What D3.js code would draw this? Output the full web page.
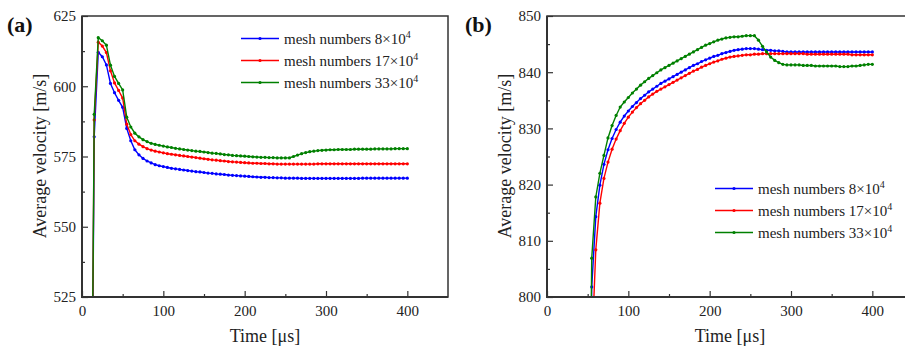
<!DOCTYPE html>
<html>
<head>
<meta charset="utf-8">
<script src="https://cdn.jsdelivr.net/npm/d3@7"></script>
</head>
<body style="margin:0">
<script>
// ---- data ----
var seriesNames = ["mesh numbers 8×10", "mesh numbers 17×10", "mesh numbers 33×10"]
var seriesColors = ["#0000ff", "#ff0000", "#008000"]

// panel (a)
var timeA = [0, 15, 20, 25, 30, 35, 40, 45, 50, 55, 60, 65, 70, 75, 80, 85, 90, 95, 100,
  105, 110, 115, 120, 125, 130, 135, 140, 145, 150, 155, 160, 165, 170, 175, 180, 185, 190, 195, 200,
  205, 210, 215, 220, 225, 230, 235, 240, 245, 250, 255, 260, 265, 270, 275, 280, 285, 290, 295, 300,
  305, 310, 315, 320, 325, 330, 335, 340, 345, 350, 355, 360, 365, 370, 375, 380, 385, 390, 395, 400]
var mesh8A = [0, 582, 612.1, 610.5, 607.6, 601, 597.7, 595, 592.5, 585, 580.6, 577.4, 575.6, 574.3, 573.4, 572.7, 572.1, 571.7, 571.4,
  571.1, 570.8, 570.6, 570.4, 570.2, 570.0, 569.8, 569.6, 569.5, 569.3, 569.1, 569.0, 568.8, 568.7, 568.6, 568.4, 568.3, 568.2, 568.1, 568.0,
  567.9, 567.8, 567.7, 567.6, 567.6, 567.5, 567.5, 567.4, 567.4, 567.3, 567.3, 567.3, 567.3, 567.2, 567.2, 567.2, 567.2, 567.2, 567.2, 567.2,
  567.2, 567.2, 567.2, 567.2, 567.2, 567.2, 567.2, 567.2, 567.3, 567.3, 567.3, 567.3, 567.3, 567.3, 567.3, 567.3, 567.3, 567.3, 567.3, 567.3]
var mesh17A = [0, 588, 615.7, 614.3, 612, 605.5, 601.2, 598.5, 595.8, 586.5, 582.8, 580.6, 579.4, 578.5, 577.8, 577.3, 576.9, 576.6, 576.3,
  576.0, 575.8, 575.6, 575.4, 575.2, 575.0, 574.8, 574.6, 574.4, 574.2, 574.0, 573.8, 573.7, 573.5, 573.4, 573.2, 573.1, 573.0, 572.9, 572.8,
  572.7, 572.6, 572.6, 572.5, 572.5, 572.4, 572.4, 572.3, 572.3, 572.3, 572.3, 572.3, 572.3, 572.3, 572.3, 572.3, 572.3, 572.4, 572.4, 572.4,
  572.4, 572.4, 572.4, 572.4, 572.4, 572.4, 572.4, 572.4, 572.4, 572.4, 572.4, 572.4, 572.4, 572.4, 572.4, 572.4, 572.4, 572.4, 572.4, 572.4]
var mesh33A = [0, 590, 617.3, 616.2, 614.6, 607.5, 603.5, 601, 598.7, 589, 585.5, 583.3, 582.0, 581.0, 580.3, 579.7, 579.3, 579.0, 578.7,
  578.4, 578.2, 577.9, 577.7, 577.5, 577.3, 577.1, 576.9, 576.8, 576.6, 576.4, 576.2, 576.1, 575.9, 575.7, 575.6, 575.4, 575.3, 575.2, 575.1,
  575.0, 574.9, 574.8, 574.7, 574.7, 574.6, 574.6, 574.5, 574.5, 574.5, 574.5, 575.0, 575.5, 576.0, 576.4, 576.7, 576.9, 577.1, 577.2, 577.3,
  577.4, 577.4, 577.5, 577.5, 577.5, 577.5, 577.6, 577.6, 577.6, 577.6, 577.6, 577.7, 577.7, 577.7, 577.7, 577.7, 577.8, 577.8, 577.8, 577.8]

// panel (b)
var timeB = [0, 55, 60, 65, 70, 75, 80, 85, 90, 95, 100,
  105, 110, 115, 120, 125, 130, 135, 140, 145, 150, 155, 160, 165, 170, 175, 180, 185, 190, 195, 200,
  205, 210, 215, 220, 225, 230, 235, 240, 245, 250, 255, 260, 265, 270, 275, 280, 285, 290, 295, 300,
  305, 310, 315, 320, 325, 330, 335, 340, 345, 350, 355, 360, 365, 370, 375, 380, 385, 390, 395, 400]
var mesh8B = [0, 801.8, 814.3, 819.9, 823.6, 826.2, 828.2, 829.8, 831.1, 832.2, 833.1,
  833.9, 834.6, 835.3, 835.9, 836.5, 837.0, 837.5, 838.0, 838.4, 838.8, 839.2, 839.6, 840.0, 840.4, 840.8, 841.2, 841.5, 841.9, 842.2, 842.5,
  842.8, 843.0, 843.3, 843.5, 843.7, 843.9, 844.0, 844.1, 844.2, 844.2, 844.2, 844.1, 844.0, 843.9, 843.9, 843.8, 843.8, 843.7, 843.6, 843.6,
  843.6, 843.6, 843.6, 843.6, 843.6, 843.6, 843.6, 843.6, 843.6, 843.6, 843.6, 843.6, 843.6, 843.6, 843.6, 843.6, 843.6, 843.6, 843.6, 843.6]
var mesh17B = [0, 790, 808.4, 816.7, 821.1, 824.0, 826.3, 828.1, 829.6, 830.9, 832.0,
  832.9, 833.7, 834.4, 835.0, 835.6, 836.1, 836.6, 837.0, 837.4, 837.8, 838.2, 838.6, 839.0, 839.4, 839.8, 840.2, 840.5, 840.9, 841.2, 841.5,
  841.8, 842.0, 842.3, 842.5, 842.7, 842.8, 842.9, 843.0, 843.1, 843.1, 843.2, 843.2, 843.3, 843.3, 843.3, 843.3, 843.3, 843.3, 843.3, 843.3,
  843.3, 843.3, 843.3, 843.2, 843.2, 843.2, 843.2, 843.2, 843.2, 843.2, 843.2, 843.2, 843.2, 843.2, 843.1, 843.1, 843.1, 843.1, 843.1, 843.1]
var mesh33B = [0, 806.9, 817.8, 822.0, 825.2, 828.3, 830.5, 832.3, 833.8, 834.7, 835.5,
  836.3, 837.0, 837.7, 838.3, 838.9, 839.4, 839.9, 840.4, 840.8, 841.2, 841.6, 842.0, 842.4, 842.8, 843.2, 843.6, 844.0, 844.4, 844.8, 845.1,
  845.4, 845.7, 845.9, 846.1, 846.2, 846.3, 846.3, 846.4, 846.5, 846.5, 846.5, 845.7, 844.6, 843.6, 842.7, 842.1, 841.7, 841.4, 841.3, 841.3,
  841.3, 841.3, 841.2, 841.2, 841.2, 841.1, 841.1, 841.1, 841.1, 841.1, 841.1, 841.0, 841.0, 841.0, 841.1, 841.1, 841.2, 841.3, 841.4, 841.4]

var xTicks = [0, 100, 200, 300, 400]
var xMinor = [50, 150, 250, 350]
var yTicksA = [525, 550, 575, 600, 625]
var yMinorA = [537.5, 562.5, 587.5, 612.5]
var yTicksB = [800, 810, 820, 830, 840, 850]
var yMinorB = [805, 815, 825, 835, 845]

// ---- layout ----
var width = 905
var height = 346
var serif = "'Liberation Serif'"

var svg = d3.select("body").append("svg")
  .attr("width", width)
  .attr("height", height)
  .style("font-family", serif)

// plain text helper: font set directly on each node
function label(parent, str, size) {
  return parent.append("text")
    .attr("font-family", serif)
    .style("font-family", serif)
    .attr("font-size", size)
    .attr("fill", "#222")
    .text(str)
}

function drawPanel(p) {
  var x = d3.scaleLinear().domain([0, 450]).range([p.left, p.left + 366])
  var y = d3.scaleLinear().domain(p.yDomain).range([297, 16])
  var g = svg.append("g")

  g.append("clipPath").attr("id", "clip" + p.id)
    .append("rect")
    .attr("x", p.left).attr("y", 16)
    .attr("width", 366).attr("height", 281)

  // series lines + markers
  p.series.forEach(function (vals, i) {
    var pts = p.time.map(function (t, j) { return [t, vals[j]] })
    var sg = g.append("g").attr("clip-path", "url(#clip" + p.id + ")")
    sg.append("path")
      .datum(pts)
      .attr("fill", "none")
      .attr("stroke", seriesColors[i])
      .attr("stroke-width", 1.4)
      .attr("d", d3.line().x(d => x(d[0])).y(d => y(d[1])))
    sg.selectAll("circle")
      .data(pts)
      .enter().append("circle")
      .attr("cx", d => x(d[0]))
      .attr("cy", d => y(d[1]))
      .attr("r", 1.6)
      .attr("fill", seriesColors[i])
  })

  // axes (inward ticks)
  var axes = g.append("g")
  axes.append("g").attr("transform", "translate(0,297)")
    .call(d3.axisBottom(x).tickValues(xTicks).tickSize(-6).tickPadding(8))
  axes.append("g").attr("transform", "translate(0,297)")
    .call(d3.axisBottom(x).tickValues(xMinor).tickSize(-3).tickFormat(""))
  axes.append("g").attr("transform", "translate(" + p.left + ",0)")
    .call(d3.axisLeft(y).tickValues(p.yTicks).tickSize(-6).tickPadding(6))
  axes.append("g").attr("transform", "translate(" + p.left + ",0)")
    .call(d3.axisLeft(y).tickValues(p.yMinor).tickSize(-3).tickFormat(""))
  axes.selectAll(".domain").remove()
  axes.selectAll("g").attr("font-family", serif).style("font-family", serif)
  axes.selectAll(".tick line").attr("stroke", "#333").attr("stroke-width", 1.2)
  axes.selectAll(".tick text")
    .attr("font-size", 15).attr("fill", "#222")
    .attr("font-family", serif).style("font-family", serif)

  // frame
  g.append("rect")
    .attr("x", p.left).attr("y", 16)
    .attr("width", 366).attr("height", 281)
    .attr("fill", "none").attr("stroke", "#333").attr("stroke-width", 1.5)
  g.append("path")
    .attr("d", "M" + p.left + ",16V297H" + (p.left + 366))
    .attr("fill", "none").attr("stroke", "#333").attr("stroke-width", 2)

  // titles
  label(g, "Time [μs]", 18)
    .attr("x", p.left + 183).attr("y", 342)
    .attr("text-anchor", "middle")
  label(g, "Average velocity [m/s]", 18)
    .attr("transform", "translate(" + (p.left - 36) + ",156) rotate(-90)")
    .attr("text-anchor", "middle")
  label(g, p.label, 22)
    .attr("x", p.labelX).attr("y", 32)
    .attr("font-weight", "bold")
    .attr("fill", "#111")

  // legend
  seriesNames.forEach(function (name, i) {
    var ly = p.legY + i * 22
    g.append("line")
      .attr("x1", p.legX).attr("x2", p.legX + 38)
      .attr("y1", ly).attr("y2", ly)
      .attr("stroke", seriesColors[i]).attr("stroke-width", 1.4)
    g.append("circle")
      .attr("cx", p.legX + 19).attr("cy", ly).attr("r", 1.6)
      .attr("fill", seriesColors[i])
    var t = label(g, name, 15)
      .attr("x", p.legX + 43).attr("y", ly + 5)
    t.append("tspan").attr("dy", -6).attr("font-size", 10).text("4")
  })
}

drawPanel({
  id: "a", left: 82, label: "(a)", labelX: 7,
  time: timeA, series: [mesh8A, mesh17A, mesh33A],
  yDomain: [525, 625], yTicks: yTicksA, yMinor: yMinorA,
  legX: 241, legY: 38.5
})
drawPanel({
  id: "b", left: 547, label: "(b)", labelX: 465,
  time: timeB, series: [mesh8B, mesh17B, mesh33B],
  yDomain: [800, 850], yTicks: yTicksB, yMinor: yMinorB,
  legX: 715, legY: 188.5
})
</script>
</body>
</html>
